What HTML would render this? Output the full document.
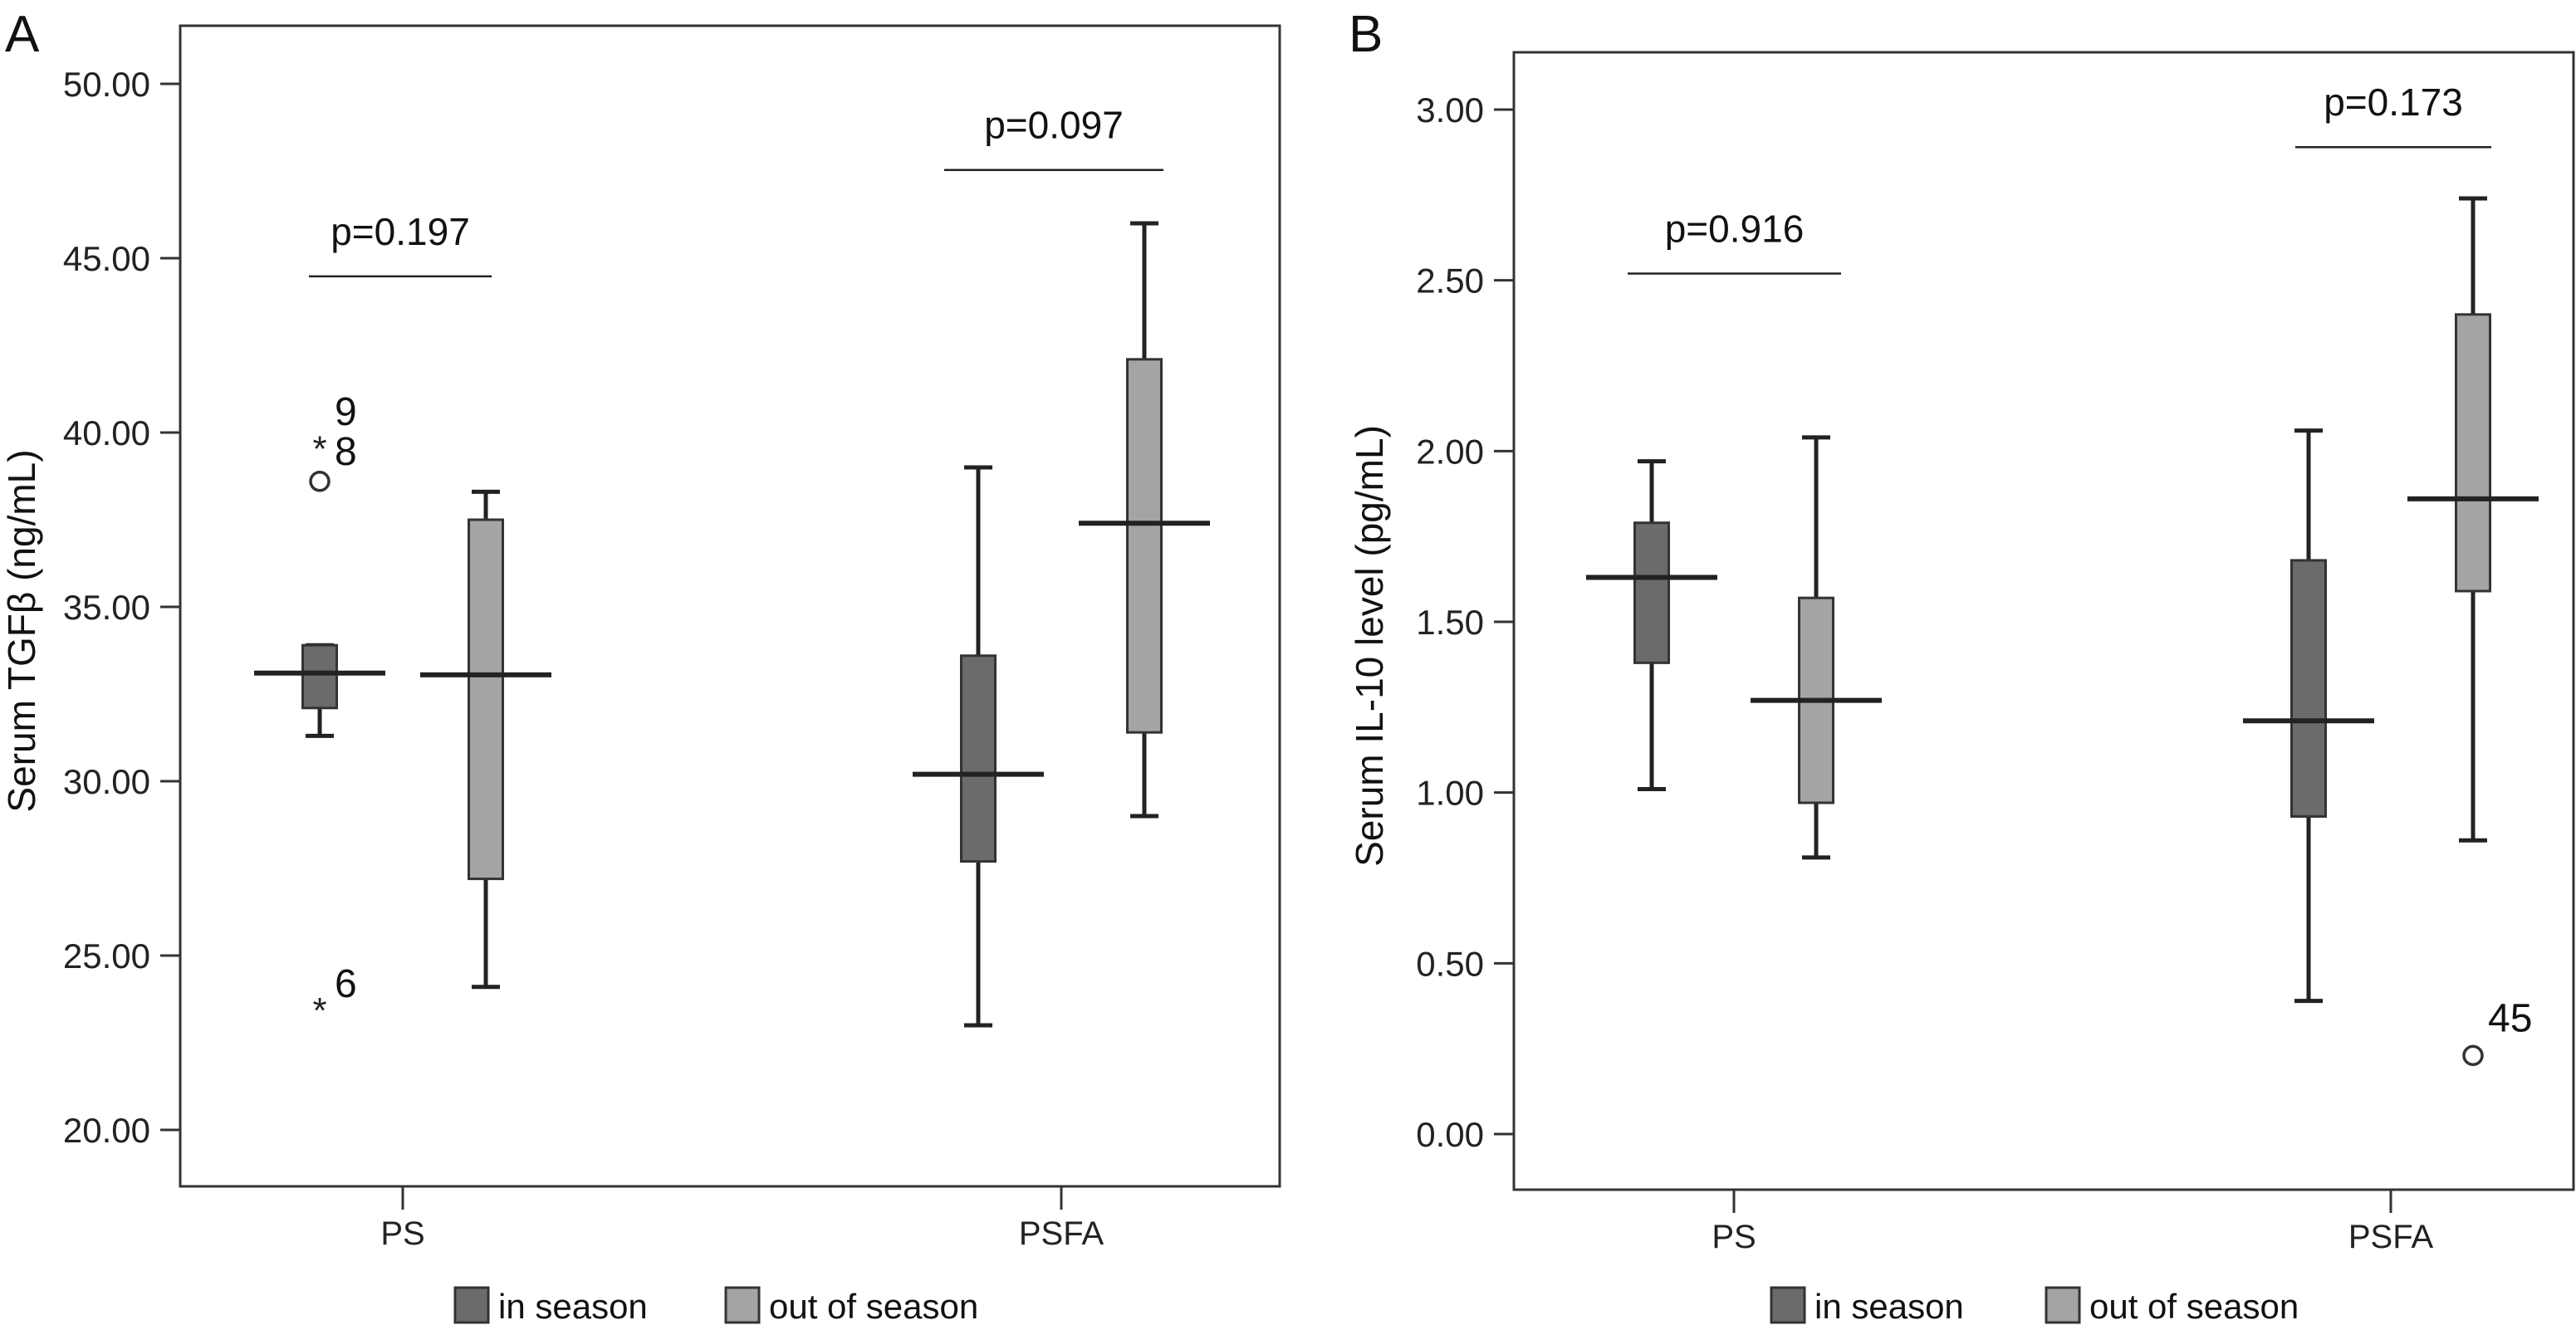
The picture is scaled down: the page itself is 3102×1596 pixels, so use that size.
<!DOCTYPE html>
<html><head><meta charset="utf-8"><style>
html,body{margin:0;padding:0;background:#fff;}
svg{display:block;font-family:"Liberation Sans",sans-serif;}
</style></head><body>
<svg id="fig" width="3102" height="1596" viewBox="0 0 3102 1596" xmlns="http://www.w3.org/2000/svg">
<g id="pA"></g>
<g id="pB"></g>
</svg>
<script>
// Panel A data
const categoriesA = ["PS", "PSFA"];
const ticksA = [20, 25, 30, 35, 40, 45, 50];
const tickLabelsA = ["20.00","25.00","30.00","35.00","40.00","45.00","50.00"];
// [low, q1, median, q3, high]
const inSeasonA = [[31.3, 32.1, 33.1, 33.9, 33.9], [23.0, 27.7, 30.2, 33.6, 39.0]];
const outSeasonA = [[24.1, 27.2, 33.05, 37.5, 38.3], [29.0, 31.4, 37.4, 42.1, 46.0]];
const outliersA = [{g:0, s:0, v:38.6, type:"circle"}, {g:0, s:0, v:39.7, type:"star"}, {g:0, s:0, v:23.6, type:"star"}];
const outlierLabelsA = [{g:0, s:0, v:40.21, text:"9"}, {g:0, s:0, v:39.07, text:"8"}, {g:0, s:0, v:23.81, text:"6"}];
const pValuesA = [{g:0, v:44.48, text:"p=0.197"}, {g:1, v:47.53, text:"p=0.097"}];
// Panel B data
const categoriesB = ["PS", "PSFA"];
const ticksB = [0, 0.5, 1, 1.5, 2, 2.5, 3];
const tickLabelsB = ["0.00","0.50","1.00","1.50","2.00","2.50","3.00"];
const inSeasonB = [[1.01, 1.38, 1.63, 1.79, 1.97], [0.39, 0.93, 1.21, 1.68, 2.06]];
const outSeasonB = [[0.81, 0.97, 1.27, 1.57, 2.04], [0.86, 1.59, 1.86, 2.40, 2.74]];
const outliersB = [{g:1, s:1, v:0.23, type:"circle"}];
const outlierLabelsB = [{g:1, s:1, v:0.30, text:"45"}];
const pValuesB = [{g:0, v:2.52, text:"p=0.916"}, {g:1, v:2.89, text:"p=0.173"}];

const NS = "http://www.w3.org/2000/svg";
function mk(parent, tag, attrs, text){
  const e = document.createElementNS(NS, tag);
  for (const k in attrs) e.setAttribute(k, attrs[k]);
  if (text !== undefined) e.textContent = text;
  parent.appendChild(e);
  return e;
}

function drawPanel(g, cfg){
  const y = v => cfg.y0 + (v - cfg.v0) * (cfg.y1 - cfg.y0) / (cfg.v1 - cfg.v0);
  const L = cfg.left, T = cfg.top, R = cfg.right, B = cfg.bottom;
  const letter = mk(g, "text", {x: cfg.letterX, y: 62, "font-size": 62, fill: "#111"}, cfg.letter);
  
  
  const frame = mk(g, "rect", {x:L, y:T, width:R-L, height:B-T, fill:"none", stroke:"#333", "stroke-width":3});
  
  
  cfg.ticks.forEach((t, i) => {
    const tk = mk(g, "line", {x1:L-24, x2:L, y1:y(t), y2:y(t), stroke:"#333", "stroke-width":3});
    
    
    const tl = mk(g, "text", {x:L-36, y:y(t)+15, "font-size":42, "text-anchor":"end", fill:"#222"}, cfg.tickLabels[i]);
    
    
  });
  const yt = mk(g, "text", {x:0, y:0, "font-size":46, "text-anchor":"middle", fill:"#111",
    transform:`translate(${cfg.titleX},${(T+B)/2+30}) rotate(-90)`}, cfg.title);
  
  
  cfg.cats.forEach((c, i) => {
    const cx = cfg.catX[i];
    const xt = mk(g, "line", {x1:cx, x2:cx, y1:B, y2:B+28, stroke:"#333", "stroke-width":3});
    
    
    const xl = mk(g, "text", {x:cx, y:B+70, "font-size":40, "text-anchor":"middle", fill:"#222"}, c);
    
    
  });
  const series = [cfg.inS, cfg.outS];
  const fills = ["#6b6b6d", "#a3a4a6"];
  series.forEach((ser, s) => {
    ser.forEach((d, gi) => {
      const cx = cfg.catX[gi] + (s === 0 ? -cfg.off : cfg.off);
      const bw = 41, cap = 17, mw = 79;
      const grp = mk(g, "g", {});
      
      
      mk(grp, "line", {x1:cx, x2:cx, y1:y(d[0]), y2:y(d[1]), stroke:"#222", "stroke-width":5});
      mk(grp, "line", {x1:cx, x2:cx, y1:y(d[3]), y2:y(d[4]), stroke:"#222", "stroke-width":5});
      mk(grp, "line", {x1:cx-cap, x2:cx+cap, y1:y(d[0]), y2:y(d[0]), stroke:"#222", "stroke-width":5});
      mk(grp, "line", {x1:cx-cap, x2:cx+cap, y1:y(d[4]), y2:y(d[4]), stroke:"#222", "stroke-width":5});
      mk(grp, "rect", {x:cx-bw/2, y:y(d[3]), width:bw, height:y(d[1])-y(d[3]), fill:fills[s], stroke:"#333", "stroke-width":3});
      mk(grp, "line", {x1:cx-mw, x2:cx+mw, y1:y(d[2]), y2:y(d[2]), stroke:"#222", "stroke-width":6});
    });
  });
  cfg.outliers.forEach(o => {
    const cx = cfg.catX[o.g] + (o.s === 0 ? -cfg.off : cfg.off);
    const cy = y(o.v);
    let m;
    if (o.type === "circle") {
      m = mk(g, "circle", {cx:cx, cy:cy, r:11, fill:"none", stroke:"#333", "stroke-width":3.5});
    } else {
      m = mk(g, "text", {x:cx, y:cy+22, "font-size":44, "text-anchor":"middle", fill:"#222"}, "*");
    }
    
    
  });
  cfg.outLabels.forEach(o => {
    const cx = cfg.catX[o.g] + (o.s === 0 ? -cfg.off : cfg.off);
    const ol = mk(g, "text", {x:cx+18, y:y(o.v), "font-size":48, fill:"#111"}, o.text);
    
    
  });
  cfg.pvals.forEach(p => {
    const [x1, x2] = cfg.pX[p.g];
    const ln = mk(g, "line", {x1:x1, x2:x2, y1:y(p.v), y2:y(p.v), stroke:"#222", "stroke-width":2.5});
    
    
    const pt = mk(g, "text", {x:(x1+x2)/2, y:y(p.v)-38, "font-size":46, "text-anchor":"middle", fill:"#111"}, p.text);
    
    
  });
  const lg = mk(g, "g", {});
  
  
  const names = ["in season", "out of season"];
  names.forEach((n, i) => {
    const lx = cfg.legX[i];
    const r = mk(lg, "rect", {x:lx, y:1551, width:40, height:42, fill:fills[i], stroke:"#333", "stroke-width":3});
    
    
    const t = mk(lg, "text", {x:lx+52, y:1588, "font-size":42, fill:"#111"}, n);
    
    
  });
}

drawPanel(document.getElementById("pA"), {
  letter:"A", letterX:6, left:217, top:31, right:1541, bottom:1429,
  y0:1361, y1:101, v0:20, v1:50, ticks:ticksA, tickLabels:tickLabelsA,
  title:"Serum TGFβ (ng/mL)", titleX:42, cats:categoriesA, catX:[485, 1278], off:100,
  inS:inSeasonA, outS:outSeasonA, outliers:outliersA, outLabels:outlierLabelsA,
  pvals:pValuesA, pX:[[372, 592], [1137, 1401]], legX:[548, 874]
});
drawPanel(document.getElementById("pB"), {
  letter:"B", letterX:1624, left:1823, top:63, right:3099, bottom:1433,
  y0:1366, y1:132, v0:0, v1:3, ticks:ticksB, tickLabels:tickLabelsB,
  title:"Serum IL-10 level (pg/mL)", titleX:1665, cats:categoriesB, catX:[2088, 2879], off:99,
  inS:inSeasonB, outS:outSeasonB, outliers:outliersB, outLabels:outlierLabelsB,
  pvals:pValuesB, pX:[[1960, 2217], [2764, 3000]], legX:[2133, 2464]
});
</script>
</body></html>
